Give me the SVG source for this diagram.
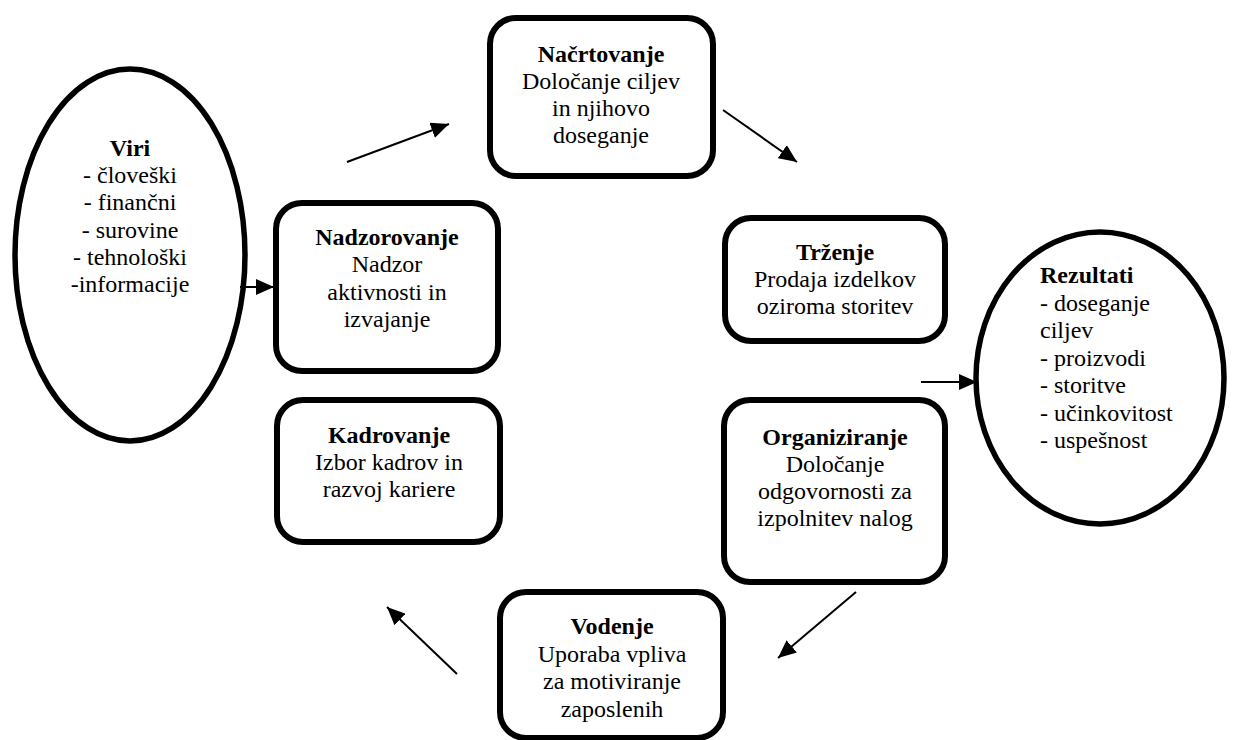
<svg xmlns="http://www.w3.org/2000/svg" width="1234" height="740" viewBox="0 0 1234 740">
<defs>
<style>
.box{fill:#fff;stroke:#000;stroke-width:6}
.ell{fill:#fff;stroke:#000;stroke-width:5.5}
.t{font-family:'Liberation Serif','Times New Roman',serif;font-size:24px;fill:#000}
.c{text-anchor:middle}
.b{font-weight:bold}
.con{stroke:#000;stroke-width:2;fill:none;marker-end:url(#ah)}
</style>
<marker id="ah" markerUnits="userSpaceOnUse" markerWidth="20" markerHeight="16" refX="18" refY="8" orient="auto">
<path d="M0,0 L18,8 L0,16 z" fill="#000"/>
</marker>
</defs>
<rect width="1234" height="740" fill="#fff"/>
<g id="viri">
<ellipse class="ell" cx="130" cy="255" rx="115" ry="186"/>
<text class="t c"><tspan class="b" x="130" y="156">Viri</tspan><tspan x="130" y="183">- človeški</tspan><tspan x="130" y="210">- finančni</tspan><tspan x="130" y="238">- surovine</tspan><tspan x="130" y="265">- tehnološki</tspan><tspan x="130" y="292">-informacije</tspan></text>
</g>
<g id="nacrtovanje">
<rect class="box" x="490" y="18" width="223" height="158" rx="26"/>
<text class="t c"><tspan class="b" x="601" y="62">Načrtovanje</tspan><tspan x="601" y="89">Določanje ciljev</tspan><tspan x="601" y="116">in njihovo</tspan><tspan x="601" y="143">doseganje</tspan></text>
</g>
<g id="nadzorovanje">
<rect class="box" x="276" y="203" width="222" height="168" rx="26"/>
<text class="t c"><tspan class="b" x="387" y="245">Nadzorovanje</tspan><tspan x="387" y="272">Nadzor</tspan><tspan x="387" y="300">aktivnosti in</tspan><tspan x="387" y="327">izvajanje</tspan></text>
</g>
<g id="trzenje">
<rect class="box" x="725" y="218" width="220" height="123" rx="26"/>
<text class="t c"><tspan class="b" x="835" y="260">Trženje</tspan><tspan x="835" y="287">Prodaja izdelkov</tspan><tspan x="835" y="314">oziroma storitev</tspan></text>
</g>
<g id="rezultati">
<ellipse class="ell" cx="1100" cy="378" rx="124" ry="146"/>
<text class="t"><tspan class="b" x="1040" y="283">Rezultati</tspan><tspan x="1040" y="311">- doseganje</tspan><tspan x="1040" y="338">ciljev</tspan><tspan x="1040" y="366">- proizvodi</tspan><tspan x="1040" y="393">- storitve</tspan><tspan x="1040" y="421">- učinkovitost</tspan><tspan x="1040" y="448">- uspešnost</tspan></text>
</g>
<g id="kadrovanje">
<rect class="box" x="277" y="400" width="223" height="142" rx="26"/>
<text class="t c"><tspan class="b" x="389" y="443">Kadrovanje</tspan><tspan x="389" y="470">Izbor kadrov in</tspan><tspan x="389" y="497">razvoj kariere</tspan></text>
</g>
<g id="organiziranje">
<rect class="box" x="724" y="400" width="221" height="182" rx="26"/>
<text class="t c"><tspan class="b" x="835" y="445">Organiziranje</tspan><tspan x="835" y="472">Določanje</tspan><tspan x="835" y="499">odgovornosti za</tspan><tspan x="835" y="526">izpolnitev nalog</tspan></text>
</g>
<g id="vodenje">
<rect class="box" x="500" y="592" width="223" height="146" rx="26"/>
<text class="t c"><tspan class="b" x="612" y="634">Vodenje</tspan><tspan x="612" y="662">Uporaba vpliva</tspan><tspan x="612" y="689">za motiviranje</tspan><tspan x="612" y="717">zaposlenih</tspan></text>
</g>
<g id="connectors">
<line class="con" x1="347" y1="162" x2="449" y2="124"/>
<line class="con" x1="723" y1="110" x2="797" y2="162"/>
<line class="con" x1="856" y1="592" x2="778" y2="658"/>
<line class="con" x1="457" y1="674" x2="387" y2="607"/>
<line class="con" x1="240" y1="287" x2="274" y2="287"/>
<line class="con" x1="921" y1="382" x2="977" y2="382"/>
</g>
</svg>
